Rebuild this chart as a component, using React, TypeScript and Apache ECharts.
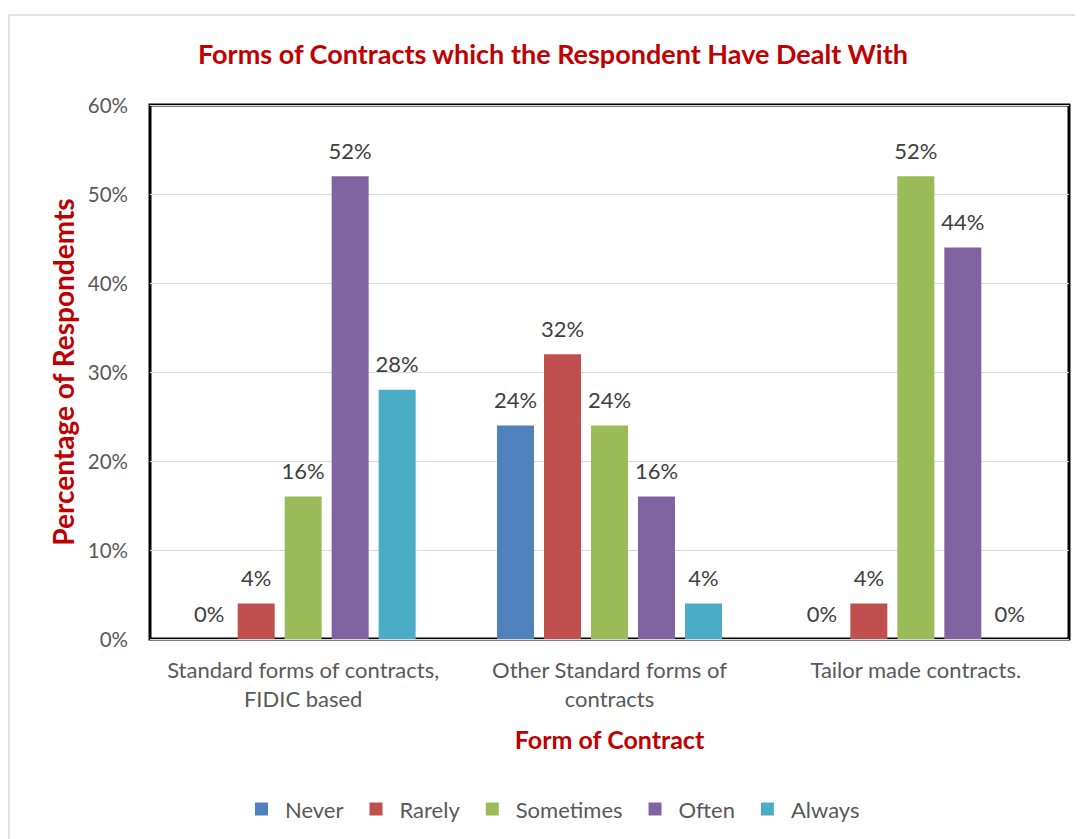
import React, { useEffect, useRef } from "react";
import * as echarts from "echarts";

const categories = [
  "Standard forms of contracts,\nFIDIC based",
  "Other Standard forms of\ncontracts",
  "Tailor made contracts.",
];
const seriesNames = ["Never", "Rarely", "Sometimes", "Often", "Always"];
const never = [0, 24, 0];
const rarely = [4, 32, 4];
const sometimes = [16, 24, 52];
const often = [52, 16, 44];
const always = [28, 4, 0];
const yTicks = [0, 10, 20, 30, 40, 50, 60];
const colors = ["#4F81BD", "#C0504D", "#9BBB59", "#8064A2", "#4BACC6"];

const FONT = "Lato";

export default function App() {
  const ref = useRef<HTMLDivElement>(null);

  useEffect(() => {
    if (!ref.current) return;
    const chart = echarts.init(ref.current, null, { renderer: "svg" });
    const values = [never, rarely, sometimes, often, always];
    chart.setOption({
      animation: false,
      textStyle: { fontFamily: FONT },
      title: {
        text: "Forms of Contracts which the Respondent Have Dealt With",
        left: 540,
        top: 27,
        textAlign: "center",
        textStyle: { color: "#C00000", fontWeight: "bold", fontSize: 27, fontFamily: FONT },
      },
      graphic: [
        {
          type: "rect",
          shape: { x: 1, y: 7, width: 1200, height: 1000 },
          style: { fill: "none", stroke: "#D9D9D9", lineWidth: 1.5 },
          silent: true,
          z: -10,
        },
      ],
      grid: {
        left: 142,
        top: 97,
        right: 14,
        bottom: 200,
        show: true,
        borderColor: "#000000",
        borderWidth: 3,
        containLabel: false,
      },
      legend: {
        data: seriesNames,
        bottom: 14,
        left: 242,
        icon: "rect",
        itemWidth: 13,
        itemHeight: 13,
        itemGap: 26,
        textStyle: { color: "#595959", fontSize: 22, fontFamily: FONT, padding: [0, 0, 0, 12] },
      },
      xAxis: {
        type: "category",
        data: categories,
        name: "Form of Contract",
        nameLocation: "middle",
        nameGap: 87,
        nameTextStyle: { color: "#C00000", fontWeight: "bold", fontSize: 25, fontFamily: FONT },
        axisLine: { show: false },
        axisTick: { show: false },
        axisLabel: { interval: 0, color: "#595959", fontSize: 22, lineHeight: 29, margin: 16, fontFamily: FONT },
      },
      yAxis: {
        type: "value",
        min: 0,
        max: 60,
        interval: 10,
        name: "Percentage of Respondemts",
        nameLocation: "middle",
        nameGap: 73,
        nameTextStyle: { color: "#C00000", fontWeight: "bold", fontSize: 28, fontFamily: FONT },
        axisLine: { show: false },
        axisTick: { show: false },
        axisLabel: {
          color: "#595959",
          fontSize: 20.5,
          margin: 22,
          fontFamily: FONT,
          formatter: (v: number) => (yTicks.includes(v) ? v + "%" : ""),
        },
        splitLine: { lineStyle: { color: "#D9D9D9", width: 1 } },
      },
      series: seriesNames.map((name, i) => ({
        name,
        type: "bar",
        data: values[i],
        barWidth: 37,
        barGap: "27%",
        itemStyle: { color: colors[i] },
        label: {
          show: true,
          position: "top",
          distance: 15,
          formatter: (p: any) => p.value + "%",
          color: "#404040",
          fontSize: 22,
          fontFamily: FONT,
        },
      })),
    });
    return () => chart.dispose();
  }, []);

  return <div ref={ref} style={{ width: 1075, height: 831 }} />;
}
